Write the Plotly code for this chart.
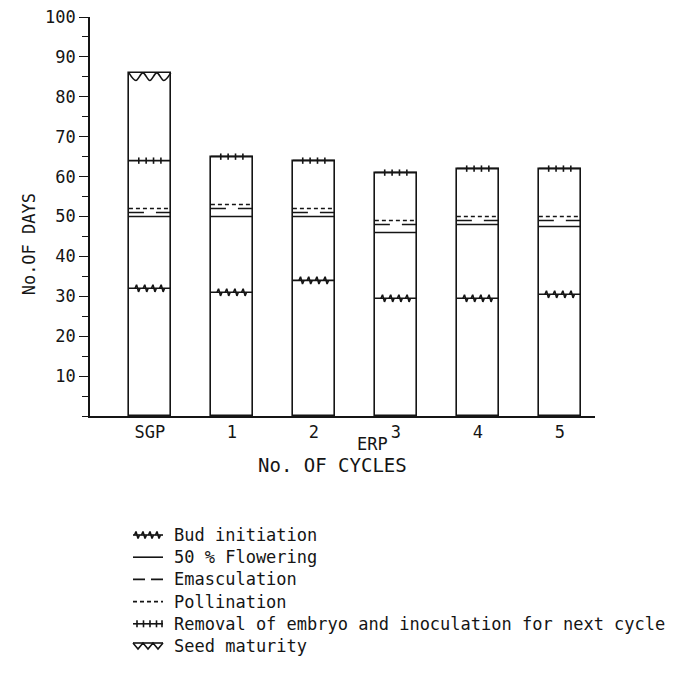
import plotly.graph_objects as go

# ---------------- data ----------------
categories = ["SGP", "1", "2", "3", "4", "5"]
bud_initiation = [32, 31, 34, 29.5, 29.5, 30.5]
flowering_50 = [50, 50, 50, 46, 48, 47.5]
emasculation = [51, 52, 51, 48, 49, 49]
pollination = [52, 53, 52, 49, 50, 50]
removal_embryo = [64, 65, 64, 61, 62, 62]
seed_maturity = [86, None, None, None, None, None]

y_tick_values = [10, 20, 30, 40, 50, 60, 70, 80, 90, 100]
y_tick_labels = ["10", "20", "30", "40", "50", "60", "70", "80", "90", "100"]

legend_labels = [
    "Bud initiation",
    "50 % Flowering",
    "Emasculation",
    "Pollination",
    "Removal of embryo and inoculation for next cycle",
    "Seed maturity",
]

# ---------------- style ----------------
INK = "#151515"
FONT = "DejaVu Sans Mono"
FS = 17
W = 0.51          # bar width (x units)
LW = 1.6
xpos = list(range(len(categories)))

stages = [bud_initiation, flowering_50, emasculation, pollination,
          removal_embryo, seed_maturity]
bar_heights = [max(v for v in col if v is not None) for col in zip(*stages)]

fig = go.Figure()

fig.add_trace(go.Bar(
    x=xpos, y=bar_heights, width=W,
    marker=dict(color="white", line=dict(color=INK, width=LW)),
    hoverinfo="skip", showlegend=False,
))


def add_line(xs, ys, dash="solid", xa="x", ya="y", shape="linear"):
    fig.add_trace(go.Scatter(
        x=xs, y=ys, mode="lines", xaxis=xa, yaxis=ya,
        line=dict(color=INK, width=LW, dash=dash, shape=shape),
        hoverinfo="skip", showlegend=False,
    ))


def level_segments(values):
    xs, ys = [], []
    for i, v in zip(xpos, values):
        if v is None:
            continue
        xs += [i - W / 2, i + W / 2, None]
        ys += [v, v, None]
    return xs, ys


# solid levels
for vals in (bud_initiation, flowering_50, removal_embryo):
    xs, ys = level_segments(vals)
    add_line(xs, ys)

# dashed levels, one trace per bar so the dash restarts at each bar
for i, v in zip(xpos, emasculation):
    add_line([i - W / 2, i + W / 2], [v, v], dash="15px,12px")
for i, v in zip(xpos, pollination):
    add_line([i - W / 2, i + W / 2], [v, v], dash="4px,3px")

# bud initiation zig-zag ticks
tick_offsets = [-0.15, -0.05, 0.05, 0.15]
xs, ys = [], []
for i, v in zip(xpos, bud_initiation):
    for o in tick_offsets:
        xc = i + o
        xs += [xc - 0.03, xc - 0.012, xc + 0.012, xc + 0.03, None]
        ys += [v, v + 0.9, v - 0.9, v, None]
add_line(xs, ys)

# removal of embryo vertical ticks
rem_offsets = [-0.135, -0.045, 0.045, 0.135]
xs, ys = [], []
for i, v in zip(xpos, removal_embryo):
    for o in rem_offsets:
        xs += [i + o, i + o, None]
        ys += [v - 0.8, v + 0.8, None]
add_line(xs, ys)

# seed maturity scallops
for i, v in zip(xpos, seed_maturity):
    if v is None:
        continue
    left = i - W / 2
    sx = [left + k * W / 6 for k in range(7)]
    sy = [v if k % 2 == 0 else v - 1.9 for k in range(7)]
    add_line(sx, sy, shape="spline")

# ---------------- custom legend (screen-pixel coordinates on x2/y2) ----------------
LEG_X0, LEG_X1 = 133, 163
LEG_TEXT_X = 172
LEG_Y0, LEG_DY = 535, 22.2
rows = [LEG_Y0 + k * LEG_DY for k in range(len(legend_labels))]

# 0 bud initiation
y = rows[0]
add_line([LEG_X0, LEG_X1], [y, y], xa="x2", ya="y2")
xs, ys = [], []
for xc in [137, 144, 151, 158]:
    xs += [xc - 2.5, xc - 1, xc + 1, xc + 2.5, None]
    ys += [y, y - 3.5, y + 3.5, y, None]
add_line(xs, ys, xa="x2", ya="y2")
# 1 flowering
y = rows[1]
add_line([LEG_X0, LEG_X1], [y, y], xa="x2", ya="y2")
# 2 emasculation
y = rows[2]
add_line([LEG_X0, LEG_X1], [y, y], dash="12px,6px", xa="x2", ya="y2")
# 3 pollination
y = rows[3]
add_line([LEG_X0, LEG_X1], [y, y], dash="4px,3px", xa="x2", ya="y2")
# 4 removal
y = rows[4]
add_line([LEG_X0, LEG_X1], [y, y], xa="x2", ya="y2")
xs, ys = [], []
for xc in [137, 143.5, 150, 156.5, 162]:
    xs += [xc, xc, None]
    ys += [y - 3.5, y + 3.5, None]
add_line(xs, ys, xa="x2", ya="y2")
# 5 seed maturity
y = rows[5]
add_line([LEG_X0, LEG_X1], [y - 3, y - 3], xa="x2", ya="y2")
sx = [LEG_X0 + k * (LEG_X1 - LEG_X0) / 6 for k in range(7)]
sy = [y - 3 if k % 2 == 0 else y + 3 for k in range(7)]
add_line(sx, sy, xa="x2", ya="y2")

annotations = []
for label, yy in zip(legend_labels, rows):
    annotations.append(dict(
        x=LEG_TEXT_X, y=yy, xref="x2", yref="y2", text=label,
        xanchor="left", yanchor="middle", showarrow=False,
        font=dict(family=FONT, size=FS, color=INK),
    ))

# axis titles
annotations += [
    dict(x=2.72, y=-0.07, xref="x", yref="y domain", text="ERP",
         showarrow=False, xanchor="center", yanchor="middle",
         font=dict(family=FONT, size=FS, color=INK)),
    dict(x=2.23, y=-0.123, xref="x", yref="y domain", text="No. OF CYCLES",
         showarrow=False, xanchor="center", yanchor="middle",
         font=dict(family=FONT, size=19, color=INK)),
    dict(x=-0.119, y=0.43, xref="paper", yref="y domain", text="No.OF DAYS",
         showarrow=False, xanchor="center", yanchor="middle", textangle=-90,
         font=dict(family=FONT, size=FS, color=INK)),
]

# page body has an 8px margin: the figure is offset on screen by OFF px
OFF = 8
FIG_W, FIG_H = 674 - OFF, 677 - OFF
PLOT_L, PLOT_R = 90, 595      # screen px
PLOT_T, PLOT_B = 17, 670      # screen px
AXIS_BOTTOM = 416             # screen px of y = 0
plot_h = PLOT_B - PLOT_T
main_bottom = (PLOT_B - AXIS_BOTTOM) / plot_h
leg_top = 0.30

fig.update_layout(
    width=FIG_W, height=FIG_H,
    margin=dict(l=PLOT_L - OFF, r=FIG_W - (PLOT_R - OFF),
                t=PLOT_T - OFF, b=FIG_H - (PLOT_B - OFF), pad=0,
                autoexpand=False),
    paper_bgcolor="white", plot_bgcolor="white",
    showlegend=False, bargap=0,
    font=dict(family=FONT, size=FS, color=INK),
    xaxis=dict(
        domain=[0, 1], range=[-0.73, 5.43], anchor="y",
        tickmode="array", tickvals=xpos, ticktext=categories,
        showline=True, linecolor=INK, linewidth=LW, ticks="",
        showgrid=False, zeroline=False, fixedrange=True, automargin=False,
        tickfont=dict(family=FONT, size=FS, color=INK),
    ),
    yaxis=dict(
        domain=[main_bottom, 1], range=[0, 100], anchor="x",
        tickmode="array", tickvals=y_tick_values, ticktext=y_tick_labels,
        showline=True, linecolor=INK, linewidth=LW,
        ticks="outside", ticklen=9, tickwidth=1.4, tickcolor=INK,
        minor=dict(tick0=0, dtick=5, ticks="outside", ticklen=6,
                   tickwidth=1.2, tickcolor=INK),
        ticklabeloverflow="allow", automargin=False,
        showgrid=False, zeroline=False, fixedrange=True,
        tickfont=dict(family=FONT, size=FS, color=INK),
    ),
    xaxis2=dict(domain=[0, 1], range=[PLOT_L, PLOT_R], anchor="y2",
                visible=False, fixedrange=True),
    yaxis2=dict(domain=[0, leg_top], range=[PLOT_B, PLOT_B - leg_top * plot_h],
                anchor="x2", visible=False, fixedrange=True),
    annotations=annotations,
)

fig.write_html("out.html")
